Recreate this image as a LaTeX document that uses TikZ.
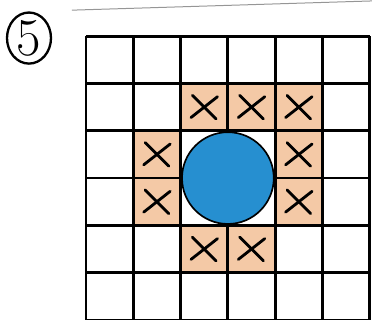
\documentclass[tikz,border=0pt]{standalone}
\usetikzlibrary{shapes.geometric}
\definecolor{peach}{RGB}{244,201,166}
\definecolor{disc}{RGB}{38,143,208}
\definecolor{rule}{RGB}{150,150,150}
\tikzset{line width=1.4pt,
  gridline/.style={draw=black,line width=1.7pt},
  cell/.style={fill=peach},
  cross/.style={draw=black,line width=1.7pt,line cap=round},
  blob/.style={circle,fill=disc,draw=black,line width=1pt},
  tag/.style={ellipse,draw=black,line width=1.4pt,inner sep=0pt,minimum width=.93cm,minimum height=1.08cm,
    font=\fontsize{32}{34}\selectfont}}
\begin{document}
\begin{tikzpicture}
\useasboundingbox(0,0)rectangle(7.865,6.765);
\draw[rule,line width=.6pt](1.52,6.55)--(7.865,6.745);
\node[tag](five)at(.613,5.96){5};
\begin{scope}[shift={(1.818,0)}]
% shaded cells round the disc
\foreach \i/\j in {2/4,3/4,4/4,1/3,4/3,1/2,4/2,2/1,3/1}{\fill[cell](\i,\j)rectangle++(1,1);}
\draw[gridline](0,0)grid(6,6);
\node[blob,minimum size=1.94cm](disc)at(3,3){};
\foreach \i/\j in {2/4,3/4,4/4,1/3,4/3,1/2,4/2,2/1,3/1}{
  \draw[cross](\i+.22,\j+.28)--(\i+.78,\j+.72);\draw[cross](\i+.25,\j+.75)--(\i+.75,\j+.25);}
\end{scope}
\end{tikzpicture}
\end{document}
